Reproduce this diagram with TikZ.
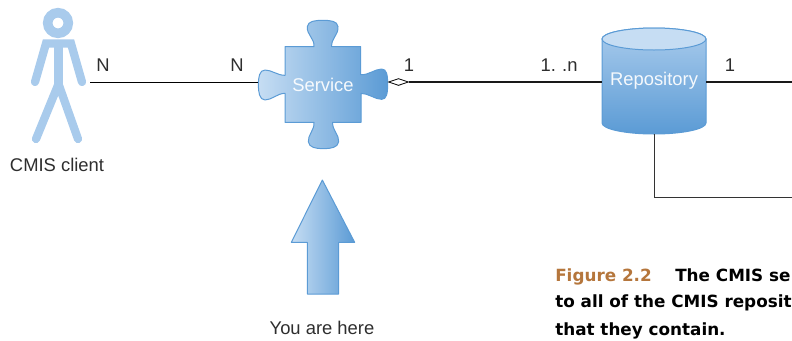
\documentclass[tikz,border=0pt]{standalone}
\usepackage{fontspec}
\setmainfont{Liberation Sans}
\newfontfamily\capfont{DejaVu Sans}
\usetikzlibrary{shapes.geometric}
\definecolor{txt}{HTML}{2E2E2E}
\definecolor{edgeblue}{HTML}{5B9BD5}
\definecolor{lightblue}{HTML}{C6DDF3}
\definecolor{midblue}{HTML}{A9CBEC}
\definecolor{figorange}{HTML}{B5763C}
\tikzset{
  lbl/.style={font=\fontsize{13.8pt}{16pt}\selectfont,text=txt,inner sep=0pt},
  inlbl/.style={font=\fontsize{13.8pt}{16pt}\selectfont,text=white,inner sep=0pt,opacity=.92},
  captext/.style={font=\capfont\bfseries\fontsize{12.6pt}{17pt}\selectfont,inner sep=0pt,anchor=base west},
  anchorbox/.style={inner sep=0pt,minimum height=78pt,draw=none},
  hgrad/.style={left color=lightblue,right color=edgeblue,draw=edgeblue,line width=.75pt,line join=round},
  limb/.style={draw=midblue,line width=6.2pt,line cap=round,line join=miter},
  thinline/.style={draw=black,line width=.75pt},
  thickline/.style={draw=black!90,line width=1.4pt},
  uml/.style={diamond,draw=black,fill=white,line width=.6pt,inner sep=0pt,minimum width=15pt,minimum height=5.25pt,aspect=2.9}
}
\begin{document}
\begin{tikzpicture}[x=.75pt,y=-.75pt]
\useasboundingbox (0,0) rectangle (792,340);
\clip (0,0) rectangle (792,340);
% client figure
\draw[draw=midblue,line width=7.2pt] (58,23) circle[radius=10.3];
\draw[limb] (35,82) -- (46,43.5) -- (71,43.5) -- (82,82);
\draw[limb,line width=7.2pt,line cap=butt] (58.5,40) -- (58.5,84);
\draw[limb] (36,139) -- (58.5,84) -- (78,139);
% service puzzle piece
\begin{scope}[shift={(240,10)},x=.25pt,y=-.25pt]
\path[hgrad] (135,110) -- (222,110)
  .. controls (224,85) and (200,75) .. (202,50)
  .. controls (204,33) and (225,31) .. (248,31)
  .. controls (272,31) and (292,33) .. (294,50)
  .. controls (296,75) and (273,85) .. (275,110)
  -- (362,110) -- (362,194)
  .. controls (385,196) and (405,177) .. (425,177)
  .. controls (440,177) and (443,195) .. (443,222)
  .. controls (443,250) and (440,268) .. (425,268)
  .. controls (405,268) and (385,250) .. (363,250)
  -- (363,337) -- (278,337)
  .. controls (276,360) and (298,375) .. (296,395)
  .. controls (294,413) and (272,416) .. (250,416)
  .. controls (228,416) and (207,413) .. (205,395)
  .. controls (203,375) and (224,360) .. (222,337)
  -- (135,337) -- (135,250)
  .. controls (112,250) and (95,270) .. (75,270)
  .. controls (58,270) and (55,245) .. (55,224)
  .. controls (55,203) and (58,180) .. (75,180)
  .. controls (95,180) and (112,196) .. (135,196)
  -- cycle;
\end{scope}
% repository cylinder
\path[top color=midblue,bottom color=edgeblue,draw=edgeblue,line width=.75pt]
  (602,39) -- (602,123) arc[start angle=180,end angle=0,x radius=52,y radius=11]
  -- (706,39) arc[start angle=0,end angle=-180,x radius=52,y radius=11] -- cycle;
\path[fill=lightblue,draw=edgeblue,line width=.75pt] (654,39) ellipse[x radius=52,y radius=11];
% arrow
\begin{scope}[shift={(250,170)},x=.25pt,y=-.25pt]
\path[hgrad] (217,30) -- (314,217) -- (266,217) -- (266,372) -- (172,372) -- (172,217) -- (124,217) -- cycle;
\end{scope}
% named nodes
\node[anchorbox,minimum width=48pt] (client) at (58,82) {};
\node[anchorbox,minimum width=97.5pt] (service) at (323,82) {};
\node[anchorbox,minimum width=78pt] (repo) at (654,82) {};
\node[uml] (agg) at (398.5,82) {};
\coordinate (endtop) at (792,82);
\coordinate (endlow) at (792,197.5);
% connectors
\draw[thinline] (client.east) -- (service.west);
\draw[thickline] (agg.east) -- (repo.west);
\draw[thickline] (repo.east) -- (endtop);
\draw[draw=black!80,line width=.75pt] (repo.south) |- (endlow);
% labels
\node[inlbl] (svclbl) at (323,85) {Service};
\node[inlbl] (repolbl) at (654,81) {Repository};
\node[lbl] (n1) at (103,65) {N};
\node[lbl] (n2) at (237,65) {N};
\node[lbl] (o1) at (409,65) {1};
\node[lbl] (oton) at (559,65) {1.\hspace{-.4pt} .n};
\node[lbl] (o2) at (730,65) {1};
\node[lbl] (clientlbl) at (57,165) {CMIS client};
\node[lbl] (here) at (322,328) {You are here};
\node[captext,text=figorange] (figlbl) at (555,281.5) {Figure 2.2};
\node[captext,text=black] (c1) at (675,281.5) {The CMIS se};
\node[captext,text=black] (c2) at (555,307.5) {to all of the CMIS reposit};
\node[captext,text=black] (c3) at (555,335) {that they contain.};
\end{tikzpicture}
\end{document}
